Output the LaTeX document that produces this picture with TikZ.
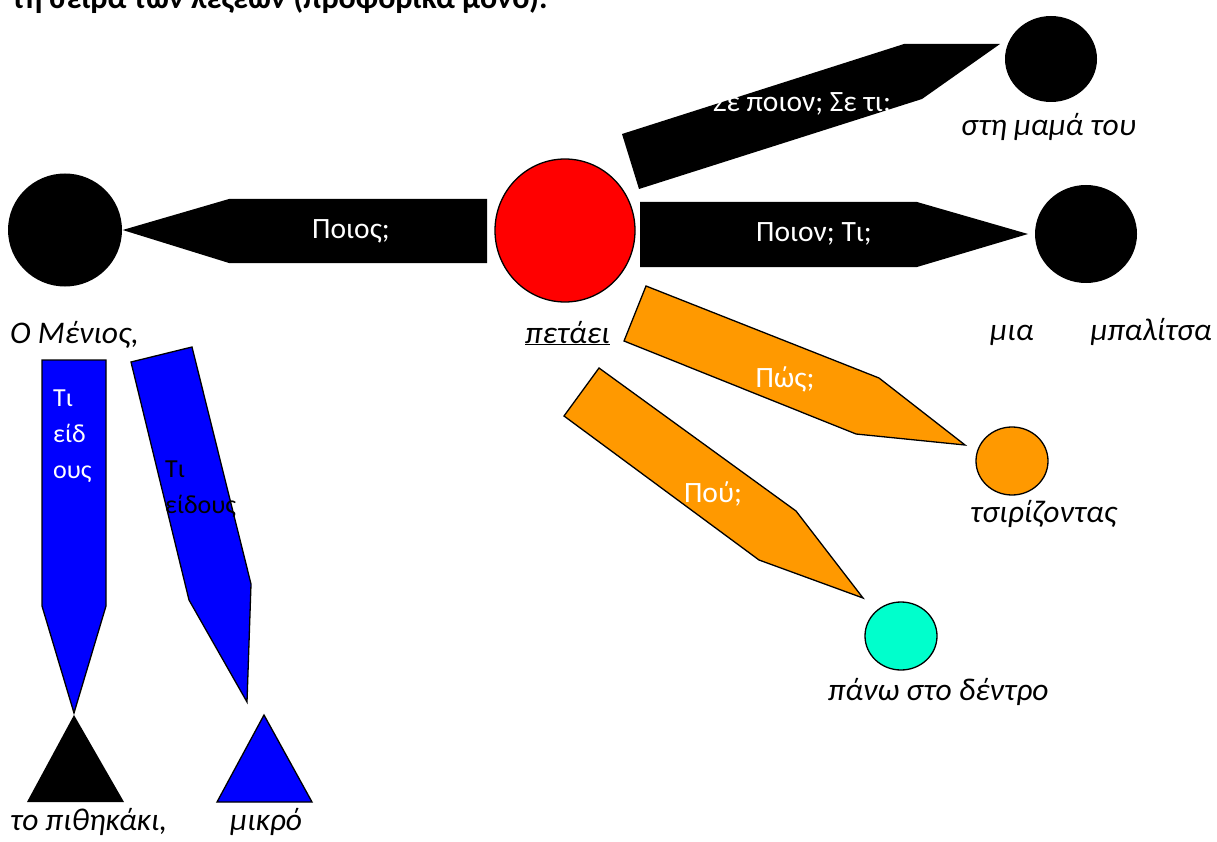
\documentclass[tikz,border=0pt]{standalone}
\usepackage{fontspec}
\setmainfont{Carlito}
\definecolor{SentOrange}{HTML}{FF9900}
\definecolor{SentBlue}{HTML}{0000FF}
\definecolor{SentCyan}{HTML}{00FFCC}
\usetikzlibrary{shapes.geometric, positioning}

\begin{document}
\begin{tikzpicture}[
      x=1pt, y=-1pt,
      word/.style={font=\fontsize{31.5}{36}\selectfont\itshape, anchor=base west, inner sep=0pt},
      askW/.style={font=\fontsize{29.5}{34}\selectfont, text=white, anchor=base, inner sep=0pt},
      askK/.style={font=\fontsize{26}{36}\selectfont, align=left, anchor=north west, inner sep=0pt},
      blob/.style={ellipse, inner sep=0pt, line width=1.3pt},
      edgeK/.style={fill=black},
      edgeC/.style={draw=black, line width=1.3pt, line join=miter}
    ]
      \useasboundingbox (0,0) rectangle (1217,842);
      \clip (0,0) rectangle (1217,842);
      % line cut off by the top of the page
      \node[font=\fontsize{32}{36}\selectfont\bfseries, anchor=base west, inner sep=0pt] (head) at (12,9)
        {τη σειρά των λέξεων (προφορικά μόνο).};

      % verb and its parts
      \node[blob, fill=red, draw=black, minimum width=140, minimum height=143] (verb) at (565,230.5) {};
      \node[blob, fill=black, minimum width=114, minimum height=113] (subj) at (65,230) {};
      \node[blob, fill=black, minimum width=102, minimum height=98] (objD) at (1086,234) {};
      \node[blob, fill=black, minimum width=92, minimum height=86] (objI) at (1051,59) {};
      \node[blob, fill=SentOrange, draw=black, minimum width=72, minimum height=68] (how) at (1012,461) {};
      \node[blob, fill=SentCyan, draw=black, minimum width=72, minimum height=68] (where) at (901,636) {};

      % question arrows
      \fill[edgeK] (subj.east) -- (229,199) -- (487,199) -- (487,263) -- (229,263) -- cycle;
      \node[askW] (qSubj) at (351,239) {Ποιος;};
      \fill[edgeK] (640,202) -- (917,202) -- (1028,234) -- (917,267) -- (640,267) -- cycle;
      \node[askW] (qObjD) at (814,242) {Ποιον; Τι;};
      \fill[edgeK] (622,134) -- (904,44) -- (1000,44) -- (922,99) -- (639,189) -- cycle;
      \node[askW] (qObjI) at (802,112) {Σε ποιον; Σε τι;};
      \filldraw[edgeC, fill=SentOrange] (646,286) -- (879,378) -- (965,445) -- (856,434) -- (624,341) -- cycle;
      \node[askW] (qHow) at (785,387) {Πώς;};
      \filldraw[edgeC, fill=SentOrange] (599,368) -- (796,511) -- (863,598) -- (759,560) -- (564,416) -- cycle;
      \node[askW] (qWhere) at (713,502) {Πού;};

      % attributes of the subject
      \filldraw[edgeC, fill=SentBlue] (42,360) -- (106,360) -- (106,606) -- (74,713) -- (42,606) -- cycle;
      \node[askK, text=white] (qKind1) at (53,390) {Τι\\είδ\\ους};
      \filldraw[edgeC, fill=SentBlue] (131,362) -- (192,347) -- (251,584) -- (247,702) -- (189,600) -- cycle;
      \node[askK] (qKind2) at (165,461) {Τι\\είδους};
      \fill[black] (74,715) -- (124,802) -- (27,802) -- cycle;
      \filldraw[edgeC, fill=SentBlue] (264,715) -- (312,802) -- (217,802) -- cycle;

      % the words
      \node[word] (wSubj) at (10,343) {Ο Μένιος,};
      \node[word] (wVerb) at (525,343) {\underline{πετάει}};
      \node[word] (wObjD) at (990,340) {μια\hspace{57pt}μπαλίτσα};
      \node[word] (wObjI) at (961,136) {στη μαμά του};
      \node[word] (wHow) at (970,522) {τσιρίζοντας};
      \node[word] (wWhere) at (828,700) {πάνω στο δέντρο};
      \node[word] (wPith) at (10,830) {το πιθηκάκι,};
      \node[word] (wMikro) at (230,830) {μικρό};
    \end{tikzpicture}
\end{document}
